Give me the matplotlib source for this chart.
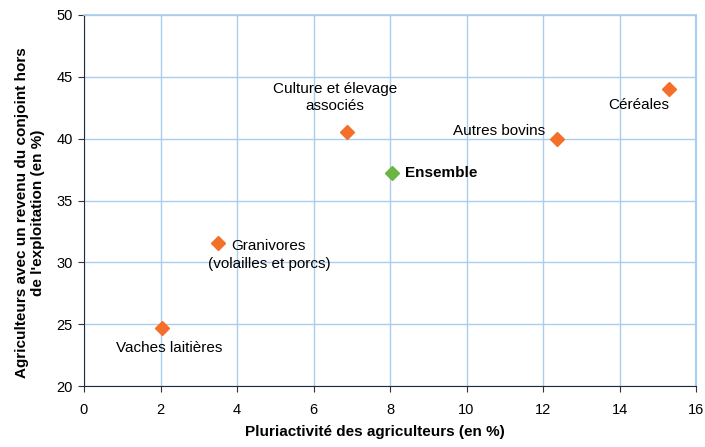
import matplotlib
matplotlib.use('Agg')
import matplotlib.pyplot as plt

plt.rcParams['font.family'] = ['Liberation Sans', 'DejaVu Sans']

# donnees
noms = ['Vaches laitières', 'Granivores\n(volailles et porcs)', 'Culture et élevage\nassociés',
        'Autres bovins', 'Céréales']
pluriactivite = [2.04, 3.5, 6.87, 12.37, 15.29]
revenu_conjoint = [24.67, 31.55, 40.5, 39.95, 44.0]

ens_x = [8.04]
ens_y = [37.2]

# decalage des etiquettes (pixels)
decalages = [(7, -20), (51, -12), (-12, 35), (-58, 8), (-30, -16)]

fig = plt.figure(figsize=(7.05, 4.47), dpi=100)
ax = fig.add_axes([84/705, 1-386/447, 612/705, 371/447])

grid_col = '#a9cdee'
ax.set_xlim(0, 16)
ax.set_ylim(20, 50)
ax.set_xticks(range(0, 17, 2))
ax.set_yticks(range(20, 51, 5))
ax.grid(True, color=grid_col, linewidth=1)
ax.set_axisbelow(True)

ax.spines['top'].set_color(grid_col)
ax.spines['right'].set_color(grid_col)
ax.spines['right'].set_linewidth(1.5)
ax.spines['top'].set_linewidth(1.2)
ax.spines['left'].set_color('#1f2a3a')
ax.spines['bottom'].set_color('#1f2a3a')
ax.tick_params(direction='out', length=4, width=0.8, labelsize=10.5, color='#333333')
ax.tick_params(axis='x', pad=8)
ax.tick_params(axis='y', pad=4)

ax.plot(pluriactivite, revenu_conjoint, linestyle='none', marker='D', markersize=7,
        color='#f36f2a', clip_on=False)
ax.plot(ens_x, ens_y, linestyle='none', marker='D', markersize=7, color='#6cb543')

for nom, x, y, d in zip(noms, pluriactivite, revenu_conjoint, decalages):
    ax.annotate(nom, (x, y), xytext=d, textcoords='offset pixels',
                ha='center', va='center', fontsize=11, linespacing=1.35)

ax.annotate('Ensemble', (ens_x[0], ens_y[0]), xytext=(13, 0), textcoords='offset pixels',
            ha='left', va='center', fontsize=11, fontweight='bold')

ax.set_xlabel('Pluriactivité des agriculteurs (en %)', fontsize=11, fontweight='bold')
ax.set_ylabel("Agriculteurs avec un revenu du conjoint hors\nde l'exploitation (en %)",
              fontsize=11, fontweight='bold')
ax.xaxis.set_label_coords(0.475, -0.105)
ax.yaxis.set_label_coords(-0.064, 0.466)

fig.savefig('out.png', dpi=100)
